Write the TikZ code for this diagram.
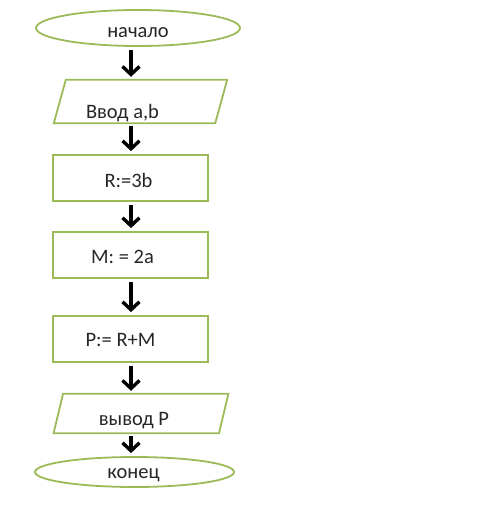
\documentclass[tikz,border=0pt]{standalone}
\usepackage{fontspec}
\setmainfont{Carlito}
\usetikzlibrary{shapes.geometric,arrows.meta}
\definecolor{olive}{RGB}{155,187,89}
\begin{document}
\begin{tikzpicture}[x=1pt,y=-1pt,font=\fontsize{20.5}{24}\selectfont,text=black!85,
  blk/.style={draw=olive,line width=1.8pt},
  term/.style={blk,ellipse,inner sep=0pt},
  iobox/.style={rectangle,inner sep=0pt},
  opbox/.style={blk,rectangle,inner sep=0pt,minimum width=155pt,minimum height=46pt},
  flow/.style={line width=3.4pt,-{Straight Barb[length=8pt,width=17pt]},shorten <=3pt,shorten >=3pt}]
  \useasboundingbox (0,0) rectangle (500,514);
  \coordinate (ax) at (131,0);
  \node[term,minimum width=204pt,minimum height=36pt,
    label={[shift={(0,5)}]center:начало}] (start) at (138,28) {};
  \node[iobox,minimum width=161pt,minimum height=43pt,
    label={[shift={(-18,12)}]center:Ввод a,b}] (in) at (140.5,101.5) {};
  \node[opbox,label={[shift={(-2,2)}]center:R:=3b}] (r) at (130.5,178) {};
  \node[opbox,label={[shift={(-8,2)}]center:M: = 2a}] (m) at (130.5,255) {};
  \node[opbox,label={[shift={(-10,1)}]center:P:= R+M}] (p) at (130.5,339) {};
  \node[iobox,minimum width=165pt,minimum height=39pt,
    label={[shift={(-7,7)}]center:вывод P}] (out) at (141,413.5) {};
  \node[term,minimum width=199pt,minimum height=30pt,
    label={[shift={(-1,3)}]center:конец}] (end) at (134.5,472) {};
  \draw[blk] ([xshift=6pt]in.north west) -- ([xshift=6pt]in.north east)
    -- ([xshift=-6pt]in.south east) -- ([xshift=-6pt]in.south west) -- cycle;
  \draw[blk] ([xshift=4.7pt]out.north west) -- ([xshift=4.7pt]out.north east)
    -- ([xshift=-4.7pt]out.south east) -- ([xshift=-4.7pt]out.south west) -- cycle;
  \draw[flow] (start.south -| ax) -- (in.north -| ax);
  \draw[flow] (in.south -| ax) -- (r.north -| ax);
  \draw[flow] (r.south -| ax) -- (m.north -| ax);
  \draw[flow] (m.south -| ax) -- (p.north -| ax);
  \draw[flow] (p.south -| ax) -- (out.north -| ax);
  \draw[flow] (out.south -| ax) -- (end.north -| ax);
\end{tikzpicture}
\end{document}
